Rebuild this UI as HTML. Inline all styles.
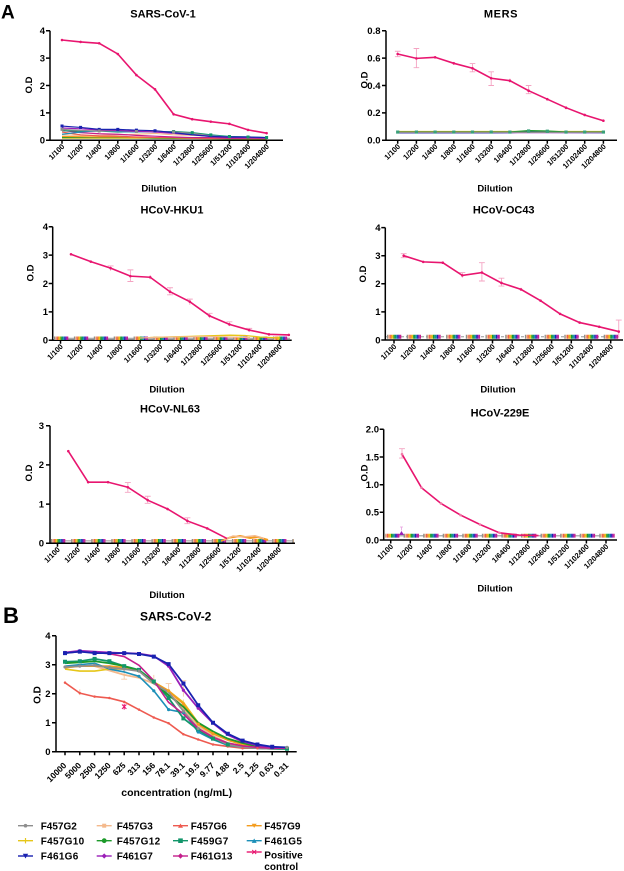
<!DOCTYPE html>
<html><head><meta charset="utf-8"><style>
html,body{margin:0;padding:0;background:#fff}
svg{display:block}
text{font-family:"Liberation Sans",Arial,sans-serif;font-weight:bold;fill:#000}
.ax{stroke:#000;stroke-width:1.5;fill:none}
.xl{font-size:7.5px}
.yl{font-size:9.5px}
</style></head><body>
<svg width="624" height="871" viewBox="0 0 624 871" xmlns="http://www.w3.org/2000/svg">
<rect width="624" height="871" fill="#fff"/>

<!-- ============ SARS-CoV-1 ============ -->
<text x="1" y="18.5" font-size="19">A</text>
<text x="163" y="17.3" font-size="11" text-anchor="middle">SARS-CoV-1</text>
<path class="ax" d="M50 30.7V140.3H283M46 30.7H50M46 58.1H50M46 85.5H50M46 112.9H50M46 140.3H50M62 140.3v3.5M80.6 140.3v3.5M99.2 140.3v3.5M117.8 140.3v3.5M136.4 140.3v3.5M155 140.3v3.5M173.6 140.3v3.5M192.2 140.3v3.5M210.8 140.3v3.5M229.4 140.3v3.5M248 140.3v3.5M266.6 140.3v3.5"/>
<g class="yl" text-anchor="end"><text x="45" y="34">4</text><text x="45" y="61.4">3</text><text x="45" y="88.8">2</text><text x="45" y="116.2">1</text><text x="45" y="143.6">0</text></g>
<text transform="translate(32,85) rotate(-90)" font-size="9.5" text-anchor="middle">O.D</text>
<g class="xl" text-anchor="end">
<text transform="translate(65,147) rotate(-45)">1/100</text>
<text transform="translate(83.6,147) rotate(-45)">1/200</text>
<text transform="translate(102.2,147) rotate(-45)">1/400</text>
<text transform="translate(120.8,147) rotate(-45)">1/800</text>
<text transform="translate(139.4,147) rotate(-45)">1/1600</text>
<text transform="translate(158,147) rotate(-45)">1/3200</text>
<text transform="translate(176.6,147) rotate(-45)">1/6400</text>
<text transform="translate(195.2,147) rotate(-45)">1/12800</text>
<text transform="translate(213.8,147) rotate(-45)">1/25600</text>
<text transform="translate(232.4,147) rotate(-45)">1/51200</text>
<text transform="translate(251,147) rotate(-45)">1/102400</text>
<text transform="translate(269.6,147) rotate(-45)">1/204800</text>
</g>
<text x="159" y="191.5" font-size="9.5" text-anchor="middle">Dilution</text>
<g transform="matrix(18.6 0 0 -27.4 62 140.3)" fill="none">
<polyline vector-effect="non-scaling-stroke" stroke="#e6c619" stroke-width="1.2" points="0,0.08 1,0.08 2,0.08 3,0.08 4,0.08 5,0.08 6,0.07 7,0.07 8,0.06 9,0.06 10,0.06 11,0.06"/>
<polyline vector-effect="non-scaling-stroke" stroke="#1c9a2a" stroke-width="1.2" points="0,0.1 1,0.1 2,0.1 3,0.1 4,0.1 5,0.08 6,0.08 7,0.08 8,0.07 9,0.06 10,0.06 11,0.06"/>
<polyline vector-effect="non-scaling-stroke" stroke="#f39c1e" stroke-width="1.2" points="0,0.14 1,0.13 2,0.12 3,0.12 4,0.1 5,0.1 6,0.1 7,0.08 8,0.08 9,0.07 10,0.06 11,0.06"/>
<polyline vector-effect="non-scaling-stroke" stroke="#f4b98c" stroke-width="1.2" points="0,0.2 1,0.18 2,0.18 3,0.2 4,0.22 5,0.25 6,0.2 7,0.18 8,0.15 9,0.1 10,0.08 11,0.08"/>
<polyline vector-effect="non-scaling-stroke" stroke="#ee5a50" stroke-width="1.2" points="0,0.3 1,0.2 2,0.16 3,0.15 4,0.12 5,0.1 6,0.1 7,0.08 8,0.07 9,0.07 10,0.07 11,0.07"/>
<polyline vector-effect="non-scaling-stroke" stroke="#c41f8c" stroke-width="1.2" points="0,0.36 1,0.28 2,0.24 3,0.22 4,0.18 5,0.15 6,0.12 7,0.1 8,0.1 9,0.08 10,0.08 11,0.08"/>
<polyline vector-effect="non-scaling-stroke" stroke="#12966a" stroke-width="1.2" points="0,0.35 1,0.33 2,0.34 3,0.3 4,0.32 5,0.3 6,0.32 7,0.28 8,0.2 9,0.14 10,0.12 11,0.1"/>
<polyline vector-effect="non-scaling-stroke" stroke="#1c8fb8" stroke-width="1.2" points="0,0.22 1,0.3 2,0.35 3,0.32 4,0.3 5,0.33 6,0.3 7,0.22 8,0.18 9,0.12 10,0.12 11,0.1"/>
<polyline vector-effect="non-scaling-stroke" stroke="#8e8e8e" stroke-width="1.2" points="0,0.4 1,0.36 2,0.34 3,0.35 4,0.32 5,0.32 6,0.3 7,0.26 8,0.16 9,0.12 10,0.1 11,0.08"/>
<polyline vector-effect="non-scaling-stroke" stroke="#9b1fb8" stroke-width="1.2" points="0,0.45 1,0.42 2,0.38 3,0.36 4,0.33 5,0.3 6,0.25 7,0.2 8,0.15 9,0.1 10,0.1 11,0.08"/>
<polyline vector-effect="non-scaling-stroke" stroke="#1a22b0" stroke-width="1.2" points="0,0.52 1,0.47 2,0.4 3,0.4 4,0.37 5,0.35 6,0.28 7,0.2 8,0.14 9,0.12 10,0.12 11,0.1"/>
<path vector-effect="non-scaling-stroke" stroke="#1a22b0" stroke-width="3" stroke-linecap="square" d="M0 0.52h0.001M1 0.47h0.001M2 0.4h0.001M3 0.4h0.001M4 0.37h0.001M5 0.35h0.001"/>
<path vector-effect="non-scaling-stroke" stroke="#12966a" stroke-width="3" stroke-linecap="square" d="M6 0.32h0.001M7 0.28h0.001M8 0.2h0.001M9 0.14h0.001M10 0.12h0.001M11 0.1h0.001"/>
<path vector-effect="non-scaling-stroke" stroke="#8e8e8e" stroke-width="3" stroke-linecap="square" d="M0 0.4h0.001M2 0.34h0.001M4 0.32h0.001M6 0.3h0.001"/>
<polyline vector-effect="non-scaling-stroke" stroke="#e8156f" stroke-width="1.6" points="0,3.66 1,3.59 2,3.54 3,3.15 4,2.38 5,1.86 6,0.95 7,0.77 8,0.68 9,0.6 10,0.38 11,0.26"/>
<path vector-effect="non-scaling-stroke" stroke="#e8156f" stroke-width="2.6" stroke-linecap="round" d="M0 3.66h0M1 3.59h0M2 3.54h0M3 3.15h0M4 2.38h0M5 1.86h0M6 0.95h0M7 0.77h0M8 0.68h0M9 0.6h0M10 0.38h0M11 0.26h0"/>
</g>

<!-- ============ MERS ============ -->
<text x="501" y="17.3" font-size="11" text-anchor="middle" letter-spacing="0.6">MERS</text>
<path class="ax" d="M386 30.7V140.3H617M382 30.7H386M382 58.1H386M382 85.5H386M382 112.9H386M382 140.3H386M397.7 140.3v3.5M416.4 140.3v3.5M435.1 140.3v3.5M453.8 140.3v3.5M472.5 140.3v3.5M491.2 140.3v3.5M509.9 140.3v3.5M528.6 140.3v3.5M547.3 140.3v3.5M566 140.3v3.5M584.7 140.3v3.5M603.4 140.3v3.5"/>
<g class="yl" text-anchor="end"><text x="380.5" y="34">0.8</text><text x="380.5" y="61.4">0.6</text><text x="380.5" y="88.8">0.4</text><text x="380.5" y="116.2">0.2</text><text x="380.5" y="143.6">0.0</text></g>
<text transform="translate(367.5,80) rotate(-90)" font-size="9.5" text-anchor="middle">O.D</text>
<g class="xl" text-anchor="end">
<text transform="translate(400.7,147) rotate(-45)">1/100</text>
<text transform="translate(419.4,147) rotate(-45)">1/200</text>
<text transform="translate(438.1,147) rotate(-45)">1/400</text>
<text transform="translate(456.8,147) rotate(-45)">1/800</text>
<text transform="translate(475.5,147) rotate(-45)">1/1600</text>
<text transform="translate(494.2,147) rotate(-45)">1/3200</text>
<text transform="translate(512.9,147) rotate(-45)">1/6400</text>
<text transform="translate(531.6,147) rotate(-45)">1/12800</text>
<text transform="translate(550.3,147) rotate(-45)">1/25600</text>
<text transform="translate(569,147) rotate(-45)">1/51200</text>
<text transform="translate(587.7,147) rotate(-45)">1/102400</text>
<text transform="translate(606.4,147) rotate(-45)">1/204800</text>
</g>
<text x="495" y="191.5" font-size="9.5" text-anchor="middle">Dilution</text>
<g transform="matrix(18.7 0 0 -137 397.7 140.3)" fill="none">
<path vector-effect="non-scaling-stroke" stroke="#f4a3c2" stroke-width="0.9" d="M0 0.61V0.65M-0.15 0.65H0.15M-0.15 0.61H0.15M1 0.53V0.67M0.85 0.67H1.15M0.85 0.53H1.15M3 0.55V0.572M4 0.5V0.56M3.85 0.56H4.15M3.85 0.5H4.15M5 0.40V0.50M4.85 0.5H5.15M4.85 0.4H5.15M6 0.42V0.45M7 0.34V0.40M6.85 0.4H7.15M6.85 0.34H7.15M9 0.225V0.245"/>
<polyline vector-effect="non-scaling-stroke" stroke="#e6c619" stroke-width="1.2" points="0,0.064 11,0.064"/>
<polyline vector-effect="non-scaling-stroke" stroke="#f39c1e" stroke-width="1.2" points="0,0.062 11,0.062"/>
<polyline vector-effect="non-scaling-stroke" stroke="#f4b98c" stroke-width="1.2" points="0,0.06 6,0.06 7,0.065 8,0.06 11,0.06"/>
<polyline vector-effect="non-scaling-stroke" stroke="#9b1fb8" stroke-width="1.2" points="0,0.056 11,0.056"/>
<polyline vector-effect="non-scaling-stroke" stroke="#1a22b0" stroke-width="1.2" points="0,0.055 5,0.055 6,0.056 7,0.06 8,0.058 11,0.056"/>
<polyline vector-effect="non-scaling-stroke" stroke="#1c9a2a" stroke-width="1.3" points="0,0.06 5,0.06 6,0.06 7,0.07 8,0.068 9,0.06 11,0.06"/>
<polyline vector-effect="non-scaling-stroke" stroke="#8e8e8e" stroke-width="1.2" points="0,0.058 11,0.058"/>
<path vector-effect="non-scaling-stroke" stroke="#3aa07a" stroke-width="3.2" stroke-linecap="square" d="M0 0.06h0.001M1 0.06h0.001M2 0.06h0.001M3 0.06h0.001M4 0.06h0.001M5 0.06h0.001M6 0.06h0.001M7 0.068h0.001M8 0.066h0.001M9 0.06h0.001M10 0.06h0.001M11 0.06h0.001"/>
<polyline vector-effect="non-scaling-stroke" stroke="#e8156f" stroke-width="1.6" points="0,0.63 1,0.598 2,0.606 3,0.562 4,0.526 5,0.453 6,0.435 7,0.362 8,0.30 9,0.238 10,0.185 11,0.143"/>
<path vector-effect="non-scaling-stroke" stroke="#e8156f" stroke-width="2.6" stroke-linecap="round" d="M0 0.63h0M1 0.598h0M2 0.606h0M3 0.562h0M4 0.526h0M5 0.453h0M6 0.435h0M7 0.362h0M8 0.30h0M9 0.238h0M10 0.185h0M11 0.143h0"/>
</g>

<!-- ============ HCoV-HKU1 ============ -->
<text x="172" y="213.3" font-size="11" text-anchor="middle">HCoV-HKU1</text>
<path class="ax" d="M52.7 226.7V340.3H291.7M48.7 226.7H52.7M48.7 255.1H52.7M48.7 283.5H52.7M48.7 311.9H52.7M48.7 340.3H52.7M60.5 340.3v3.5M80.4 340.3v3.5M100.3 340.3v3.5M120.2 340.3v3.5M140.1 340.3v3.5M160 340.3v3.5M179.9 340.3v3.5M199.8 340.3v3.5M219.7 340.3v3.5M239.6 340.3v3.5M259.5 340.3v3.5M279.4 340.3v3.5"/>
<g class="yl" text-anchor="end"><text x="48" y="230">4</text><text x="48" y="258.4">3</text><text x="48" y="286.8">2</text><text x="48" y="315.2">1</text><text x="48" y="343.6">0</text></g>
<text transform="translate(33.5,273) rotate(-90)" font-size="9.5" text-anchor="middle">O.D</text>
<g class="xl" text-anchor="end">
<text transform="translate(63.5,347) rotate(-45)">1/100</text>
<text transform="translate(83.4,347) rotate(-45)">1/200</text>
<text transform="translate(103.3,347) rotate(-45)">1/400</text>
<text transform="translate(123.2,347) rotate(-45)">1/800</text>
<text transform="translate(143.1,347) rotate(-45)">1/1600</text>
<text transform="translate(163,347) rotate(-45)">1/3200</text>
<text transform="translate(182.9,347) rotate(-45)">1/6400</text>
<text transform="translate(202.8,347) rotate(-45)">1/12800</text>
<text transform="translate(222.7,347) rotate(-45)">1/25600</text>
<text transform="translate(242.6,347) rotate(-45)">1/51200</text>
<text transform="translate(262.5,347) rotate(-45)">1/102400</text>
<text transform="translate(282.4,347) rotate(-45)">1/204800</text>
</g>
<text x="167" y="392.5" font-size="9.5" text-anchor="middle">Dilution</text>
<line x1="53" y1="338.3" x2="290" y2="338.3" stroke="#a0a0a0" stroke-width="1.2"/>
<g stroke-width="3.5" stroke-dasharray="1.3 18.6">
<line x1="54" y1="338.3" x2="291" y2="338.3" stroke="#8e8e8e"/>
<line x1="55.3" y1="338.3" x2="291" y2="338.3" stroke="#f4b98c"/>
<line x1="56.6" y1="338.3" x2="291" y2="338.3" stroke="#ee5a50"/>
<line x1="57.9" y1="338.3" x2="291" y2="338.3" stroke="#f39c1e"/>
<line x1="59.2" y1="338.3" x2="291" y2="338.3" stroke="#e6c619"/>
<line x1="60.5" y1="338.3" x2="291" y2="338.3" stroke="#1c9a2a"/>
<line x1="61.8" y1="338.3" x2="291" y2="338.3" stroke="#12966a"/>
<line x1="63.1" y1="338.3" x2="291" y2="338.3" stroke="#1c8fb8"/>
<line x1="64.4" y1="338.3" x2="291" y2="338.3" stroke="#1a22b0"/>
<line x1="65.7" y1="338.3" x2="291" y2="338.3" stroke="#9b1fb8"/>
<line x1="67" y1="338.3" x2="291" y2="338.3" stroke="#c41f8c"/>
</g>
<polyline fill="none" stroke="#e6c619" stroke-width="1.3" points="150,337.5 170,336.9 190,336.4 210,335.8 230,335.2 245,335.5 260,337 280,338"/>
<polyline fill="none" stroke="#f4b98c" stroke-width="1.2" points="140,338 160,337.2 185,336.8 205,336.5 225,336.8 250,337.6"/>
<g transform="matrix(19.8 0 0 -28.4 71 340.3)" fill="none">
<path vector-effect="non-scaling-stroke" stroke="#f4a3c2" stroke-width="0.9" d="M2 2.45V2.62M1.85 2.62H2.15M3 2.07V2.48M2.85 2.48H3.15M2.85 2.07H3.15M4 2.15V2.3M5 1.6V1.85M4.85 1.85H5.15M4.85 1.6H5.15M6 1.25V1.45M5.85 1.45H6.15M7 0.78V0.95M6.85 0.95H7.15M8 0.5V0.65M7.85 0.65H8.15M9 0.3V0.42M8.85 0.42H9.15M1 2.72V2.82"/>
<polyline vector-effect="non-scaling-stroke" stroke="#e8156f" stroke-width="1.6" points="0,3.03 1,2.77 2,2.54 3,2.26 4,2.22 5,1.71 6,1.36 7,0.86 8,0.56 9,0.36 10,0.21 11,0.19"/>
<path vector-effect="non-scaling-stroke" stroke="#e8156f" stroke-width="2.6" stroke-linecap="round" d="M0 3.03h0M1 2.77h0M2 2.54h0M3 2.26h0M4 2.22h0M5 1.71h0M6 1.36h0M7 0.86h0M8 0.56h0M9 0.36h0M10 0.21h0M11 0.19h0"/>
</g>

<!-- ============ HCoV-OC43 ============ -->
<text x="503.7" y="213.3" font-size="11" text-anchor="middle">HCoV-OC43</text>
<path class="ax" d="M385.3 227.6V340H623M381.3 227.6H385.3M381.3 255.7H385.3M381.3 283.8H385.3M381.3 311.9H385.3M381.3 340H385.3M394 340v3.5M413.7 340v3.5M433.4 340v3.5M453.1 340v3.5M472.8 340v3.5M492.5 340v3.5M512.2 340v3.5M531.9 340v3.5M551.6 340v3.5M571.3 340v3.5M591 340v3.5M610.7 340v3.5"/>
<g class="yl" text-anchor="end"><text x="380.5" y="230.9">4</text><text x="380.5" y="259">3</text><text x="380.5" y="287.1">2</text><text x="380.5" y="315.2">1</text><text x="380.5" y="343.3">0</text></g>
<text transform="translate(366,274) rotate(-90)" font-size="9.5" text-anchor="middle">O.D</text>
<g class="xl" text-anchor="end">
<text transform="translate(397,347) rotate(-45)">1/100</text>
<text transform="translate(416.7,347) rotate(-45)">1/200</text>
<text transform="translate(436.4,347) rotate(-45)">1/400</text>
<text transform="translate(456.1,347) rotate(-45)">1/800</text>
<text transform="translate(475.8,347) rotate(-45)">1/1600</text>
<text transform="translate(495.5,347) rotate(-45)">1/3200</text>
<text transform="translate(515.2,347) rotate(-45)">1/6400</text>
<text transform="translate(534.9,347) rotate(-45)">1/12800</text>
<text transform="translate(554.6,347) rotate(-45)">1/25600</text>
<text transform="translate(574.3,347) rotate(-45)">1/51200</text>
<text transform="translate(594,347) rotate(-45)">1/102400</text>
<text transform="translate(613.7,347) rotate(-45)">1/204800</text>
</g>
<text x="498" y="392.5" font-size="9.5" text-anchor="middle">Dilution</text>
<line x1="386" y1="336.7" x2="621" y2="336.7" stroke="#b0b0b0" stroke-width="1.3" stroke-dasharray="3 2"/>
<g stroke-width="4" stroke-dasharray="1.3 18.4">
<line x1="387" y1="336.7" x2="622" y2="336.7" stroke="#8e8e8e"/>
<line x1="388.3" y1="336.7" x2="622" y2="336.7" stroke="#f4b98c"/>
<line x1="389.6" y1="336.7" x2="622" y2="336.7" stroke="#ee5a50"/>
<line x1="390.9" y1="336.7" x2="622" y2="336.7" stroke="#f39c1e"/>
<line x1="392.2" y1="336.7" x2="622" y2="336.7" stroke="#e6c619"/>
<line x1="393.5" y1="336.7" x2="622" y2="336.7" stroke="#1c9a2a"/>
<line x1="394.8" y1="336.7" x2="622" y2="336.7" stroke="#12966a"/>
<line x1="396.1" y1="336.7" x2="622" y2="336.7" stroke="#1c8fb8"/>
<line x1="397.4" y1="336.7" x2="622" y2="336.7" stroke="#1a22b0"/>
<line x1="398.7" y1="336.7" x2="622" y2="336.7" stroke="#9b1fb8"/>
<line x1="400" y1="336.7" x2="622" y2="336.7" stroke="#c41f8c"/>
</g>
<g transform="matrix(19.55 0 0 -28.1 403.7 340)" fill="none">
<path vector-effect="non-scaling-stroke" stroke="#f4a3c2" stroke-width="0.9" d="M0 2.93V3.07M-0.15 3.07H0.15M-0.15 2.93H0.15M3 2.22V2.4M2.85 2.4H3.15M4 2.1V2.75M3.85 2.75H4.15M3.85 2.1H4.15M5 1.92V2.2M4.85 2.2H5.15M4.85 1.92H5.15M6 1.75V1.86M11 0.05V0.71M10.85 0.71H11.15"/>
<polyline vector-effect="non-scaling-stroke" stroke="#e8156f" stroke-width="1.6" points="0,3.0 1,2.78 2,2.75 3,2.3 4,2.4 5,2.03 6,1.8 7,1.4 8,0.93 9,0.62 10,0.47 11,0.3"/>
<path vector-effect="non-scaling-stroke" stroke="#e8156f" stroke-width="2.6" stroke-linecap="round" d="M0 3.0h0M1 2.78h0M2 2.75h0M3 2.3h0M4 2.4h0M5 2.03h0M6 1.8h0M7 1.4h0M8 0.93h0M9 0.62h0M10 0.47h0M11 0.3h0"/>
</g>

<!-- ============ HCoV-NL63 ============ -->
<text x="170" y="412.7" font-size="11" text-anchor="middle">HCoV-NL63</text>
<path class="ax" d="M50 425.7V543.3H295M46 425.7H50M46 464.9H50M46 504.1H50M46 543.3H50M57.5 543.3v3.5M77.6 543.3v3.5M97.7 543.3v3.5M117.8 543.3v3.5M137.9 543.3v3.5M158 543.3v3.5M178.1 543.3v3.5M198.2 543.3v3.5M218.3 543.3v3.5M238.4 543.3v3.5M258.5 543.3v3.5M278.6 543.3v3.5"/>
<g class="yl" text-anchor="end"><text x="44" y="429">3</text><text x="44" y="468.2">2</text><text x="44" y="507.4">1</text><text x="44" y="546.6">0</text></g>
<text transform="translate(32,473) rotate(-90)" font-size="9.5" text-anchor="middle">O.D</text>
<g class="xl" text-anchor="end">
<text transform="translate(60.5,550) rotate(-45)">1/100</text>
<text transform="translate(80.6,550) rotate(-45)">1/200</text>
<text transform="translate(100.7,550) rotate(-45)">1/400</text>
<text transform="translate(120.8,550) rotate(-45)">1/800</text>
<text transform="translate(140.9,550) rotate(-45)">1/1600</text>
<text transform="translate(161,550) rotate(-45)">1/3200</text>
<text transform="translate(181.1,550) rotate(-45)">1/6400</text>
<text transform="translate(201.2,550) rotate(-45)">1/12800</text>
<text transform="translate(221.3,550) rotate(-45)">1/25600</text>
<text transform="translate(241.4,550) rotate(-45)">1/51200</text>
<text transform="translate(261.5,550) rotate(-45)">1/102400</text>
<text transform="translate(281.6,550) rotate(-45)">1/204800</text>
</g>
<text x="167" y="598" font-size="9.5" text-anchor="middle">Dilution</text>
<line x1="51" y1="540.8" x2="293" y2="540.8" stroke="#b0b0b0" stroke-width="1.3"/>
<g stroke-width="3.5" stroke-dasharray="1.3 18.8">
<line x1="51" y1="540.8" x2="294" y2="540.8" stroke="#8e8e8e"/>
<line x1="52.3" y1="540.8" x2="294" y2="540.8" stroke="#f4b98c"/>
<line x1="53.6" y1="540.8" x2="294" y2="540.8" stroke="#ee5a50"/>
<line x1="54.9" y1="540.8" x2="294" y2="540.8" stroke="#f39c1e"/>
<line x1="56.2" y1="540.8" x2="294" y2="540.8" stroke="#e6c619"/>
<line x1="57.5" y1="540.8" x2="294" y2="540.8" stroke="#1c9a2a"/>
<line x1="58.8" y1="540.8" x2="294" y2="540.8" stroke="#12966a"/>
<line x1="60.1" y1="540.8" x2="294" y2="540.8" stroke="#1c8fb8"/>
<line x1="61.4" y1="540.8" x2="294" y2="540.8" stroke="#1a22b0"/>
<line x1="62.7" y1="540.8" x2="294" y2="540.8" stroke="#9b1fb8"/>
<line x1="64" y1="540.8" x2="294" y2="540.8" stroke="#c41f8c"/>
</g>
<polyline fill="none" stroke="#f39c1e" stroke-width="2" points="221,541 230,537.5 240,536 250,538 258,537 268,540"/>
<polyline fill="none" stroke="#f4b98c" stroke-width="1.5" points="224,540 233,536 243,537 255,535.8 264,538.5"/>
<g transform="matrix(19.85 0 0 -39.2 68.3 543.3)" fill="none">
<path vector-effect="non-scaling-stroke" stroke="#f4a3c2" stroke-width="0.9" d="M3 1.3V1.55M2.85 1.55H3.15M2.85 1.3H3.15M4 1.02V1.2M3.85 1.2H4.15M3.85 1.02H4.15M6 0.5V0.65M5.85 0.65H6.15M5.85 0.5H6.15M5 0.84V0.91"/>
<polyline vector-effect="non-scaling-stroke" stroke="#e8156f" stroke-width="1.6" points="0,2.35 1,1.56 2,1.56 3,1.43 4,1.1 5,0.875 6,0.57 7,0.38 8,0.12"/>
<path vector-effect="non-scaling-stroke" stroke="#e8156f" stroke-width="2.6" stroke-linecap="round" d="M0 2.35h0M1 1.56h0M2 1.56h0M3 1.43h0M4 1.1h0M5 0.875h0M6 0.57h0M7 0.38h0"/>
</g>

<!-- ============ HCoV-229E ============ -->
<text x="500" y="416.7" font-size="11" text-anchor="middle">HCoV-229E</text>
<path class="ax" d="M383.7 429.3V540H617M379.7 429.3H383.7M379.7 457H383.7M379.7 484.7H383.7M379.7 512.3H383.7M379.7 540H383.7M390.7 540v3.5M410.3 540v3.5M429.8 540v3.5M449.4 540v3.5M469 540v3.5M488.6 540v3.5M508.1 540v3.5M527.7 540v3.5M547.3 540v3.5M566.8 540v3.5M586.4 540v3.5M606 540v3.5"/>
<g class="yl" text-anchor="end"><text x="379" y="432.6">2.0</text><text x="379" y="460.3">1.5</text><text x="379" y="488">1.0</text><text x="379" y="515.6">0.5</text><text x="379" y="543.3">0.0</text></g>
<text transform="translate(367.5,473) rotate(-90)" font-size="9.5" text-anchor="middle">O.D</text>
<g class="xl" text-anchor="end">
<text transform="translate(393.7,547) rotate(-45)">1/100</text>
<text transform="translate(413.3,547) rotate(-45)">1/200</text>
<text transform="translate(432.8,547) rotate(-45)">1/400</text>
<text transform="translate(452.4,547) rotate(-45)">1/800</text>
<text transform="translate(472,547) rotate(-45)">1/1600</text>
<text transform="translate(491.6,547) rotate(-45)">1/3200</text>
<text transform="translate(511.1,547) rotate(-45)">1/6400</text>
<text transform="translate(530.7,547) rotate(-45)">1/12800</text>
<text transform="translate(550.3,547) rotate(-45)">1/25600</text>
<text transform="translate(569.8,547) rotate(-45)">1/51200</text>
<text transform="translate(589.4,547) rotate(-45)">1/102400</text>
<text transform="translate(609,547) rotate(-45)">1/204800</text>
</g>
<text x="495" y="591.7" font-size="9.5" text-anchor="middle">Dilution</text>
<line x1="384.5" y1="535.7" x2="614" y2="535.7" stroke="#b0b0b0" stroke-width="1.5"/>
<g stroke-width="3.8" stroke-dasharray="1.4 18.17">
<line x1="384" y1="535.7" x2="616" y2="535.7" stroke="#8e8e8e"/>
<line x1="385.4" y1="535.7" x2="616" y2="535.7" stroke="#f4b98c"/>
<line x1="386.8" y1="535.7" x2="616" y2="535.7" stroke="#ee5a50"/>
<line x1="388.2" y1="535.7" x2="616" y2="535.7" stroke="#f39c1e"/>
<line x1="389.6" y1="535.7" x2="616" y2="535.7" stroke="#e6c619"/>
<line x1="391" y1="535.7" x2="616" y2="535.7" stroke="#1c9a2a"/>
<line x1="392.4" y1="535.7" x2="616" y2="535.7" stroke="#12966a"/>
<line x1="393.8" y1="535.7" x2="616" y2="535.7" stroke="#1c8fb8"/>
<line x1="395.2" y1="535.7" x2="616" y2="535.7" stroke="#1a22b0"/>
<line x1="396.6" y1="535.7" x2="616" y2="535.7" stroke="#9b1fb8"/>
<line x1="398" y1="535.7" x2="616" y2="535.7" stroke="#c41f8c"/>
</g>
<path d="M399 535 l2.5 -4 l2.5 4z" fill="#9b1fb8"/>
<path d="M401.5 530.5V527M400 527H403" stroke="#e6a0e0" stroke-width="0.8" fill="none"/>
<g transform="matrix(19.5 0 0 -55.35 402 540)" fill="none">
<path vector-effect="non-scaling-stroke" stroke="#f4a3c2" stroke-width="0.9" d="M0 1.48V1.65M-0.15 1.65H0.15M-0.15 1.48H0.15"/>
<polyline vector-effect="non-scaling-stroke" stroke="#e8156f" stroke-width="1.6" points="0,1.55 1,0.945 2,0.66 3,0.45 4,0.28 5,0.13 6,0.09 7,0.08"/>
<path vector-effect="non-scaling-stroke" stroke="#f07aa6" stroke-width="2.6" stroke-linecap="round" d="M0 1.55h0M1 0.945h0M2 0.66h0M3 0.45h0M4 0.28h0M5 0.13h0"/>
</g>

<!-- ============ B: SARS-CoV-2 ============ -->
<text x="3" y="623" font-size="22">B</text>
<text x="175.7" y="620.7" font-size="12" text-anchor="middle">SARS-CoV-2</text>
<path class="ax" d="M56 635.7V751.7H296.7M52 635.7H56M52 664.7H56M52 693.7H56M52 722.7H56M52 751.7H56M65 751.7v3.5M79.8 751.7v3.5M94.6 751.7v3.5M109.4 751.7v3.5M124.2 751.7v3.5M139 751.7v3.5M153.8 751.7v3.5M168.6 751.7v3.5M183.4 751.7v3.5M198.2 751.7v3.5M213 751.7v3.5M227.8 751.7v3.5M242.6 751.7v3.5M257.4 751.7v3.5M272.2 751.7v3.5M287 751.7v3.5"/>
<g class="yl" text-anchor="end"><text x="50.5" y="639">4</text><text x="50.5" y="668">3</text><text x="50.5" y="697">2</text><text x="50.5" y="726">1</text><text x="50.5" y="755">0</text></g>
<text transform="translate(40.5,695) rotate(-90)" font-size="10" text-anchor="middle">O.D</text>
<g font-size="8.5" text-anchor="end">
<text transform="translate(67,766) rotate(-45)">10000</text>
<text transform="translate(81.8,766) rotate(-45)">5000</text>
<text transform="translate(96.6,766) rotate(-45)">2500</text>
<text transform="translate(111.4,766) rotate(-45)">1250</text>
<text transform="translate(126.2,766) rotate(-45)">625</text>
<text transform="translate(141,766) rotate(-45)">313</text>
<text transform="translate(155.8,766) rotate(-45)">156</text>
<text transform="translate(170.6,766) rotate(-45)">78.1</text>
<text transform="translate(185.4,766) rotate(-45)">39.1</text>
<text transform="translate(200.2,766) rotate(-45)">19.5</text>
<text transform="translate(215,766) rotate(-45)">9.77</text>
<text transform="translate(229.8,766) rotate(-45)">4.88</text>
<text transform="translate(244.6,766) rotate(-45)">2.5</text>
<text transform="translate(259.4,766) rotate(-45)">1.25</text>
<text transform="translate(274.2,766) rotate(-45)">0.63</text>
<text transform="translate(289,766) rotate(-45)">0.31</text>
</g>
<text x="176.7" y="796" font-size="10.5" text-anchor="middle">concentration (ng/mL)</text>

<g transform="matrix(14.8 0 0 -29 65 751.7)" fill="none" stroke-linejoin="round">
<path vector-effect="non-scaling-stroke" stroke="#f6c9a6" stroke-width="0.9" d="M4 2.5V2.85M3.8 2.5H4.2M1 1.95V2.15M7 2.0V2.35M6.8 2.35H7.2M6 2.45V2.65M8 1.5V1.8M8 1.9V2.45M7.8 2.45H8.2"/>
<polyline vector-effect="non-scaling-stroke" stroke="#ee5a50" stroke-width="1.6" points="0,2.38 1,2.02 2,1.9 3,1.85 4,1.72 5,1.45 6,1.18 7,0.98 8,0.6 9,0.42 10,0.25 11,0.18 12,0.12 13,0.12 14,0.1 15,0.1"/>
<polyline vector-effect="non-scaling-stroke" stroke="#f4b98c" stroke-width="1.8" points="0,2.9 1,2.95 2,2.95 3,2.8 4,2.65 5,2.55 6,2.35 7,2.1 8,1.5 9,0.9 10,0.55 11,0.3 12,0.2 13,0.15 14,0.12 15,0.12"/>
<polyline vector-effect="non-scaling-stroke" stroke="#e6c619" stroke-width="1.6" points="0,2.85 1,2.78 2,2.78 3,2.85 4,2.85 5,2.8 6,2.4 7,2.1 8,1.7 9,1.0 10,0.65 11,0.42 12,0.3 13,0.2 14,0.15 15,0.15"/>
<polyline vector-effect="non-scaling-stroke" stroke="#f39c1e" stroke-width="1.8" points="0,2.9 1,2.95 2,2.95 3,2.95 4,2.9 5,2.8 6,2.4 7,2.1 8,1.65 9,0.95 10,0.62 11,0.4 12,0.25 13,0.18 14,0.15 15,0.15"/>
<polyline vector-effect="non-scaling-stroke" stroke="#1c8fb8" stroke-width="1.6" points="0,2.95 1,3.0 2,3.05 3,2.85 4,2.75 5,2.6 6,2.1 7,1.45 8,1.35 9,0.68 10,0.42 11,0.22 12,0.15 13,0.12 14,0.1 15,0.1"/>
<polyline vector-effect="non-scaling-stroke" stroke="#12966a" stroke-width="1.8" points="0,3.1 1,3.12 2,3.2 3,3.12 4,2.95 5,2.82 6,2.42 7,1.85 8,1.15 9,0.75 10,0.45 11,0.25 12,0.17 13,0.12 14,0.1 15,0.1"/>
<polyline vector-effect="non-scaling-stroke" stroke="#1c9a2a" stroke-width="1.8" points="0,3.05 1,3.08 2,3.12 3,3.05 4,2.95 5,2.8 6,2.4 7,1.95 8,1.55 9,1.0 10,0.7 11,0.45 12,0.3 13,0.18 14,0.12 15,0.12"/>
<polyline vector-effect="non-scaling-stroke" stroke="#8e8e8e" stroke-width="1.8" points="0,2.92 1,2.95 2,2.98 3,2.9 4,2.85 5,2.78 6,2.35 7,2.05 8,1.4 9,0.8 10,0.5 11,0.25 12,0.15 13,0.12 14,0.1 15,0.15"/>
<polyline vector-effect="non-scaling-stroke" stroke="#c41f8c" stroke-width="1.6" points="0,3.4 1,3.45 2,3.42 3,3.38 4,3.28 5,2.98 6,2.45 7,1.7 8,1.3 9,0.8 10,0.5 11,0.3 12,0.2 13,0.15 14,0.12 15,0.12"/>
<polyline vector-effect="non-scaling-stroke" stroke="#9b1fb8" stroke-width="1.8" points="0,3.42 1,3.48 2,3.45 3,3.42 4,3.4 5,3.38 6,3.3 7,2.95 8,2.12 9,1.5 10,0.98 11,0.58 12,0.35 13,0.22 14,0.15 15,0.15"/>
<polyline vector-effect="non-scaling-stroke" stroke="#1a22b0" stroke-width="1.8" points="0,3.4 1,3.45 2,3.4 3,3.4 4,3.4 5,3.37 6,3.28 7,3.02 8,2.35 9,1.6 10,1.0 11,0.62 12,0.38 13,0.25 14,0.17 15,0.15"/>
<path vector-effect="non-scaling-stroke" stroke="#ee5a50" stroke-width="2.5" stroke-linecap="round" d="M0 2.38h0M1 2.02h0M2 1.9h0M3 1.85h0M4 1.72h0M5 1.45h0M6 1.18h0M7 0.98h0M8 0.6h0M9 0.42h0M10 0.25h0M11 0.18h0M12 0.12h0M13 0.12h0"/>
<path vector-effect="non-scaling-stroke" stroke="#12966a" stroke-width="4" stroke-linecap="square" d="M0 3.1h0.001M1 3.12h0.001M2 3.2h0.001M3 3.12h0.001M4 2.95h0.001M5 2.82h0.001M6 2.42h0.001M7 1.85h0.001M8 1.15h0.001M9 0.75h0.001M10 0.45h0.001M11 0.25h0.001M15 0.1h0.001"/>
<path vector-effect="non-scaling-stroke" stroke="#1c8fb8" stroke-width="3.2" stroke-linecap="round" d="M5 2.6h0M6 2.1h0M7 1.45h0M8 1.35h0M9 0.68h0"/>
<path vector-effect="non-scaling-stroke" stroke="#8e8e8e" stroke-width="3.2" stroke-linecap="round" d="M0 2.92h0M1 2.95h0M2 2.98h0M3 2.9h0M4 2.85h0M5 2.78h0M8 1.4h0M9 0.8h0M15 0.15h0"/>
<path vector-effect="non-scaling-stroke" stroke="#f39c1e" stroke-width="3.2" stroke-linecap="round" d="M7 2.1h0M8 1.65h0M9 0.95h0M10 0.62h0"/>
<path vector-effect="non-scaling-stroke" stroke="#9b1fb8" stroke-width="3.2" stroke-linecap="round" d="M0 3.42h0M1 3.48h0M5 3.38h0M7 2.95h0M8 2.12h0M9 1.5h0"/>
<path vector-effect="non-scaling-stroke" stroke="#1a22b0" stroke-width="4" stroke-linecap="square" d="M0 3.4h0.001M1 3.45h0.001M2 3.4h0.001M3 3.4h0.001M4 3.4h0.001M5 3.37h0.001M6 3.28h0.001M7 3.02h0.001M8 2.35h0.001M9 1.6h0.001M10 1.0h0.001M11 0.62h0.001M12 0.38h0.001M13 0.25h0.001M14 0.17h0.001"/>
</g>
<path d="M122 704.5l4.4 4.4M126.4 704.5l-4.4 4.4M124.2 703.8v5.8" stroke="#e8156f" stroke-width="1" fill="none"/>

<!-- ============ Legend ============ -->
<g stroke-width="1.4" fill="none">
<path d="M18 825.7H33" stroke="#8e8e8e"/>
<path d="M96.7 825.7H111.7" stroke="#f4b98c"/>
<path d="M173 825.7H188" stroke="#ee5a50"/>
<path d="M246.7 825.7H261.7" stroke="#f39c1e"/>
<path d="M18 840.7H33" stroke="#e6c619"/>
<path d="M96.7 840.7H111.7" stroke="#1c9a2a"/>
<path d="M173 840.7H188" stroke="#12966a"/>
<path d="M246.7 840.7H261.7" stroke="#1c8fb8"/>
<path d="M18 856H33" stroke="#1a22b0"/>
<path d="M96.7 856H111.7" stroke="#9b1fb8"/>
<path d="M173 856H188" stroke="#c41f8c"/>
<path d="M246.7 852H261.7" stroke="#e8156f"/>
</g>
<circle cx="25.5" cy="825.7" r="1.8" fill="#8e8e8e"/>
<rect x="102.2" y="823.7" width="4" height="4" fill="#f4b98c"/>
<path d="M178 827.7l2.5-4.2l2.5 4.2z" fill="#ee5a50"/>
<path d="M251.7 823.7l2.5 4.2l2.5-4.2z" fill="#f39c1e"/>
<path d="M25.5 838v5.4" stroke="#e6c619" stroke-width="1.2"/>
<circle cx="104.2" cy="840.7" r="2.4" fill="#1c9a2a"/>
<rect x="178.2" y="838.4" width="4.6" height="4.6" fill="#12966a"/>
<path d="M251.7 842.9l2.5-4.4l2.5 4.4z" fill="#1c8fb8"/>
<path d="M22.8 853.7l2.7 4.8l2.7-4.8z" fill="#1a22b0"/>
<path d="M104.2 853.4l2.6 2.6l-2.6 2.6l-2.6-2.6z" fill="#9b1fb8"/>
<path d="M180.5 853.3l2.6 2.7l-2.6 2.7l-2.6-2.7z" fill="#c41f8c"/>
<path d="M252.2 850l4 4M256.2 850l-4 4" stroke="#e8156f" stroke-width="1"/>
<g font-size="10">
<text x="40.7" y="829.3" font-weight="normal">F457G2</text>
<text x="116.7" y="829.3" font-weight="normal">F457G3</text>
<text x="190.7" y="829.3" font-weight="normal">F457G6</text>
<text x="264.3" y="829.3" font-weight="normal">F457G9</text>
<text x="40.7" y="844.3" letter-spacing="0.3">F457G10</text>
<text x="116.7" y="844.3" letter-spacing="0.3">F457G12</text>
<text x="190.7" y="844.3" letter-spacing="0.3">F459G7</text>
<text x="264.3" y="844.3" letter-spacing="0.3">F461G5</text>
<text x="40.7" y="859.6" letter-spacing="0.3">F461G6</text>
<text x="116.7" y="859.6" font-weight="normal">F461G7</text>
<text x="190.7" y="859.6" font-weight="normal">F461G13</text>
<text x="264.3" y="858.6" font-weight="normal">Positive</text>
<text x="264.3" y="869.8" font-weight="normal">control</text>
</g>
</svg>
</body></html>
